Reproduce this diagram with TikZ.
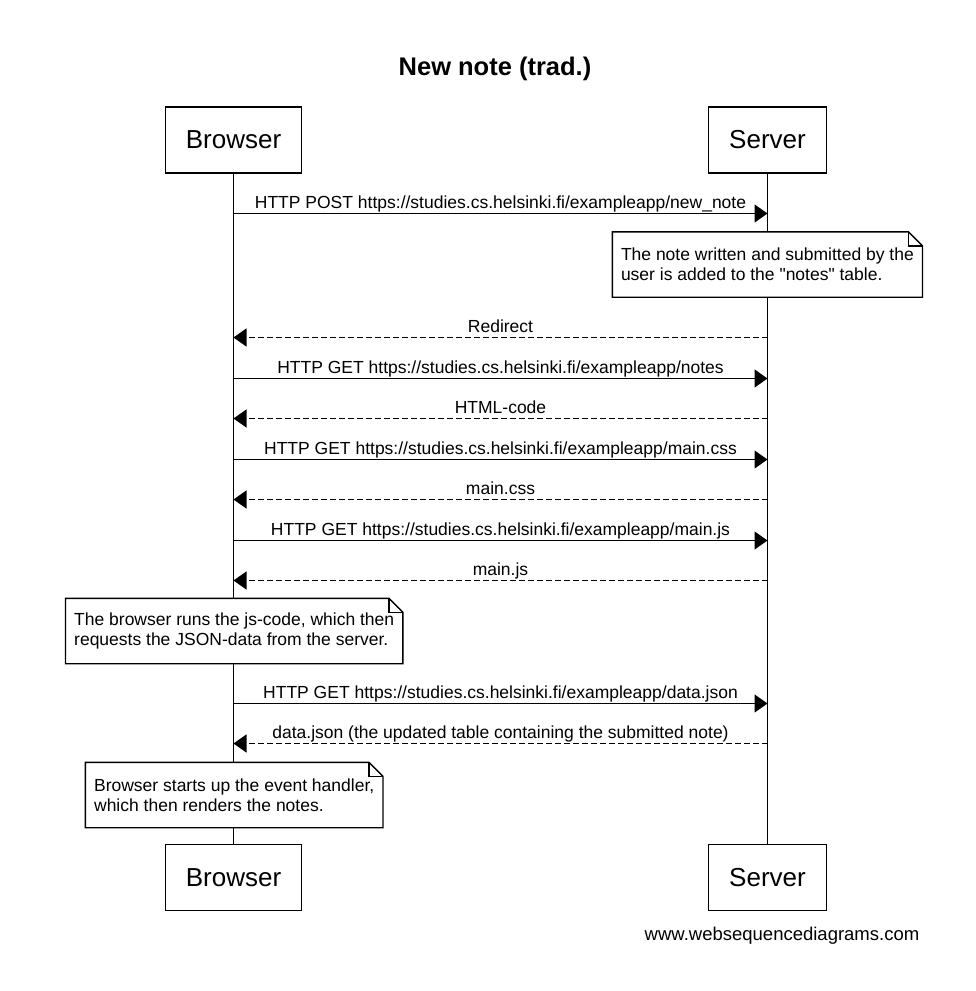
\documentclass[tikz,border=0pt]{standalone}
\usepackage{fontspec}
\setmainfont{Liberation Sans}
\usetikzlibrary{arrows.meta}
\newcommand{\labelsize}{\fontsize{17.5pt}{20pt}\selectfont}
\newcommand{\actorsize}{\fontsize{26pt}{30pt}\selectfont}
\newcommand{\foldsize}{14pt}
% straight double quote, without the tex-text mapping
\font\quotefont="Liberation Sans" at 17.5pt
\newcommand{\dq}{{\quotefont"}}
\tikzstyle{actor}=[draw, line width=1.4pt, inner xsep=20.5pt, inner ysep=0, minimum height=66pt, font=\actorsize]
\tikzstyle{lifeline}=[line width=1.3pt]
\tikzstyle{msg}=[line width=1.3pt, -{Triangle[length=13pt, width=18pt]}]
\tikzstyle{reply}=[msg, dash pattern=on 5.5pt off 3.5pt]
\tikzstyle{msglabel}=[anchor=base, yshift=5pt, inner sep=0, font=\labelsize]
\tikzstyle{note}=[fill=white, align=left, inner xsep=8.5pt, inner ysep=0, minimum height=65pt, font=\labelsize]
\tikzstyle{notebox}=[line width=1.4pt, line join=miter]
% outline of a note with a folded corner
\newcommand{\foldnote}[1]{%
  \draw[notebox] (#1.north west) -- ([xshift=-\foldsize]#1.north east) -- ([yshift=-\foldsize]#1.north east)
    -- (#1.south east) -- (#1.south west) -- cycle;
  \draw[notebox] ([xshift=-\foldsize]#1.north east) |- ([yshift=-\foldsize]#1.north east);}

\begin{document}
\begin{tikzpicture}[x=1pt, y=-1pt]
    \useasboundingbox (0,0) rectangle (976,991);
    \node[anchor=base, font=\bfseries\fontsize{25.5pt}{30pt}\selectfont] (title) at (495,75) {New note (trad.)};
    % participants
    \node[actor] (Btop) at (233.5,140) {Browser};
    \node[actor] (Stop) at (767.5,140) {Server};
    \node[actor] (Bbot) at (233.5,877.5) {Browser};
    \node[actor] (Sbot) at (767.5,877.5) {Server};
    \draw[lifeline] (Btop.south) -- (Bbot.north);
    \draw[lifeline] (Stop.south) -- (Sbot.north);
    % notes
    \node[note] (N1) at (767.4,264.5) {The note written and submitted by the\\user is added to the \dq notes\dq{} table.};
    \node[note] (N2) at (234.2,631) {The browser runs the js-code, which then\\requests the JSON-data from the server.};
    \node[note] (N3) at (234.2,795) {Browser starts up the event handler,\\which then renders the notes.};
    \foldnote{N1}
    \foldnote{N2}
    \foldnote{N3}
    % messages
    \coordinate (b1) at (233.5,213.5); \coordinate (s1) at (767.5,213.5);
    \coordinate (b2) at (233.5,337.5); \coordinate (s2) at (767.5,337.5);
    \coordinate (b3) at (233.5,378.5); \coordinate (s3) at (767.5,378.5);
    \coordinate (b4) at (233.5,418.5); \coordinate (s4) at (767.5,418.5);
    \coordinate (b5) at (233.5,459.5); \coordinate (s5) at (767.5,459.5);
    \coordinate (b6) at (233.5,499.5); \coordinate (s6) at (767.5,499.5);
    \coordinate (b7) at (233.5,540.5); \coordinate (s7) at (767.5,540.5);
    \coordinate (b8) at (233.5,580.5); \coordinate (s8) at (767.5,580.5);
    \coordinate (b9) at (233.5,703.5); \coordinate (s9) at (767.5,703.5);
    \coordinate (b10) at (233.5,743.5); \coordinate (s10) at (767.5,743.5);
    \draw[msg] (b1) -- node[msglabel] {HTTP POST https://studies.cs.helsinki.fi/exampleapp/new\_note} (s1);
    \draw[reply] (s2) -- node[msglabel] {Redirect} (b2);
    \draw[msg] (b3) -- node[msglabel] {HTTP GET https://studies.cs.helsinki.fi/exampleapp/notes} (s3);
    \draw[reply] (s4) -- node[msglabel] {HTML-code} (b4);
    \draw[msg] (b5) -- node[msglabel] {HTTP GET https://studies.cs.helsinki.fi/exampleapp/main.css} (s5);
    \draw[reply] (s6) -- node[msglabel] {main.css} (b6);
    \draw[msg] (b7) -- node[msglabel] {HTTP GET https://studies.cs.helsinki.fi/exampleapp/main.js} (s7);
    \draw[reply] (s8) -- node[msglabel] {main.js} (b8);
    \draw[msg] (b9) -- node[msglabel] {HTTP GET https://studies.cs.helsinki.fi/exampleapp/data.json} (s9);
    \draw[reply] (s10) -- node[msglabel] {data.json (the updated table containing the submitted note)} (b10);
    \node[anchor=base, font=\fontsize{18.5pt}{22pt}\selectfont] (credit) at (782,940) {www.websequencediagrams.com};
\end{tikzpicture}
\end{document}
